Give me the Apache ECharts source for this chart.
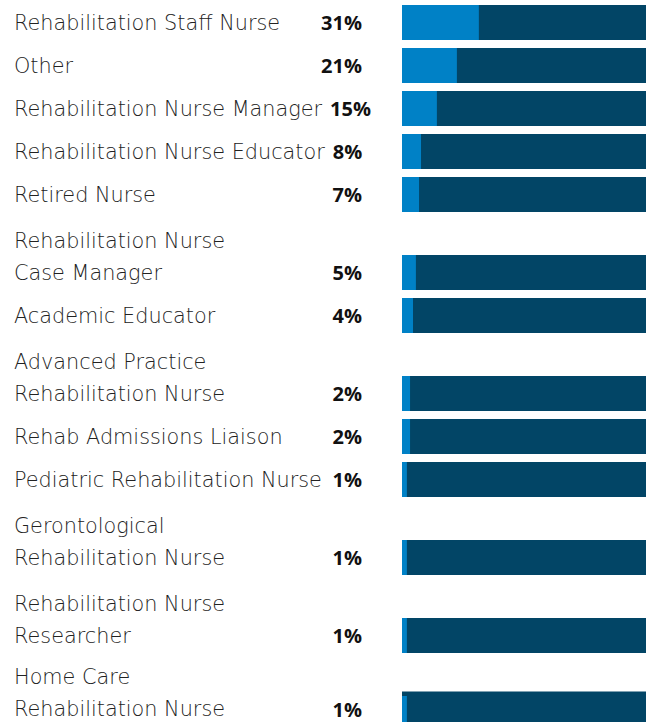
<!DOCTYPE html>
<html><head><meta charset="utf-8">
<script src="https://cdn.jsdelivr.net/npm/echarts@6/dist/echarts.min.js"></script>
<style>html,body{margin:0;padding:0;background:#fff}#c{width:646px;height:722px}</style>
</head><body><div id="c"></div>
<script>
// ---- data ----
const categories = [
  "Rehabilitation Staff Nurse",
  "Other",
  "Rehabilitation Nurse Manager",
  "Rehabilitation Nurse Educator",
  "Retired Nurse",
  "Rehabilitation Nurse\nCase Manager",
  "Academic Educator",
  "Advanced Practice\nRehabilitation Nurse",
  "Rehab Admissions Liaison",
  "Pediatric Rehabilitation Nurse",
  "Gerontological\nRehabilitation Nurse",
  "Rehabilitation Nurse\nResearcher",
  "Home Care\nRehabilitation Nurse"
];
const percentLabels = [31, 21, 15, 8, 7, 5, 4, 2, 2, 1, 1, 1, 1];
const barValues = [31.5, 22.5, 14.3, 7.8, 7, 5.7, 4.5, 3.3, 3.3, 2, 2, 2, 2];

// ---- style / layout ----
const W = 646, H = 722;
const LIGHT = '#0081c6', NAVY = '#024566';
const NAME_FONT = "'DejaVu Sans', 'Open Sans', sans-serif";
const VALUE_FONT = "'Open Sans', 'Noto Sans', sans-serif";
const NAME_SIZE = 20.8, VALUE_SIZE = 20;
const BAR_LEFT = 402, BAR_H = 35, STEP = 43, EXTRA = 35, LINE_H = 32;
const NAME_X = 14, VALUE_RIGHT = 362, GAP = 8;

// text measuring, so a long name pushes its value to the right (table-like)
const ctx = document.createElement('canvas').getContext('2d');
function textWidth(t, font) { ctx.font = font; return ctx.measureText(t).width; }

const grids = [], xAxes = [], yAxes = [], series = [];
let rowTop = 5;
categories.forEach((name, i) => {
  const lineArr = name.split('\n');
  const lines = lineArr.length;
  if (i > 0) rowTop += STEP + (lines - 1) * EXTRA;
  const gh = Math.min(BAR_H, H - rowTop);
  grids.push({ left: BAR_LEFT, right: 0, top: rowTop, height: gh, outerBoundsMode: 'none', containLabel: false });
  xAxes.push({ gridIndex: i, type: 'value', min: 0, max: 100, show: false });

  const valText = percentLabels[i] + '%';
  const lastW = textWidth(lineArr[lines - 1], '300 ' + NAME_SIZE + 'px ' + NAME_FONT);
  const valW = textWidth(valText, 'bold ' + VALUE_SIZE + 'px ' + VALUE_FONT);
  const valRight = Math.max(VALUE_RIGHT, NAME_X + lastW + GAP + valW);

  yAxes.push({
    gridIndex: i, type: 'category', data: [name], position: 'left',
    axisLine: { show: false }, axisTick: { show: false }, splitLine: { show: false },
    axisLabel: {
      align: 'left', margin: BAR_LEFT - NAME_X, fontFamily: NAME_FONT, fontSize: NAME_SIZE,
      fontWeight: 300, color: '#222', lineHeight: LINE_H,
      // last line of the label sits level with the bar
      formatter: v => v + '\n'.repeat(lines - 1)
    }
  });
  yAxes.push({
    gridIndex: i, type: 'category', data: [valText], position: 'left',
    axisLine: { show: false }, axisTick: { show: false }, splitLine: { show: false },
    axisLabel: {
      align: 'right', margin: BAR_LEFT - valRight, fontFamily: VALUE_FONT, fontSize: VALUE_SIZE,
      fontWeight: 'bold', color: '#111'
    }
  });
  series.push({
    type: 'bar', xAxisIndex: i, yAxisIndex: i * 2, data: [barValues[i]],
    barWidth: BAR_H, showBackground: true,
    backgroundStyle: { color: NAVY }, itemStyle: { color: LIGHT }, silent: true,
    animation: false
  });
});

const chart = echarts.init(document.getElementById('c'), null, { renderer: 'svg' });
chart.setOption({ animation: false, grid: grids, xAxis: xAxes, yAxis: yAxes, series: series });
</script></body></html>
